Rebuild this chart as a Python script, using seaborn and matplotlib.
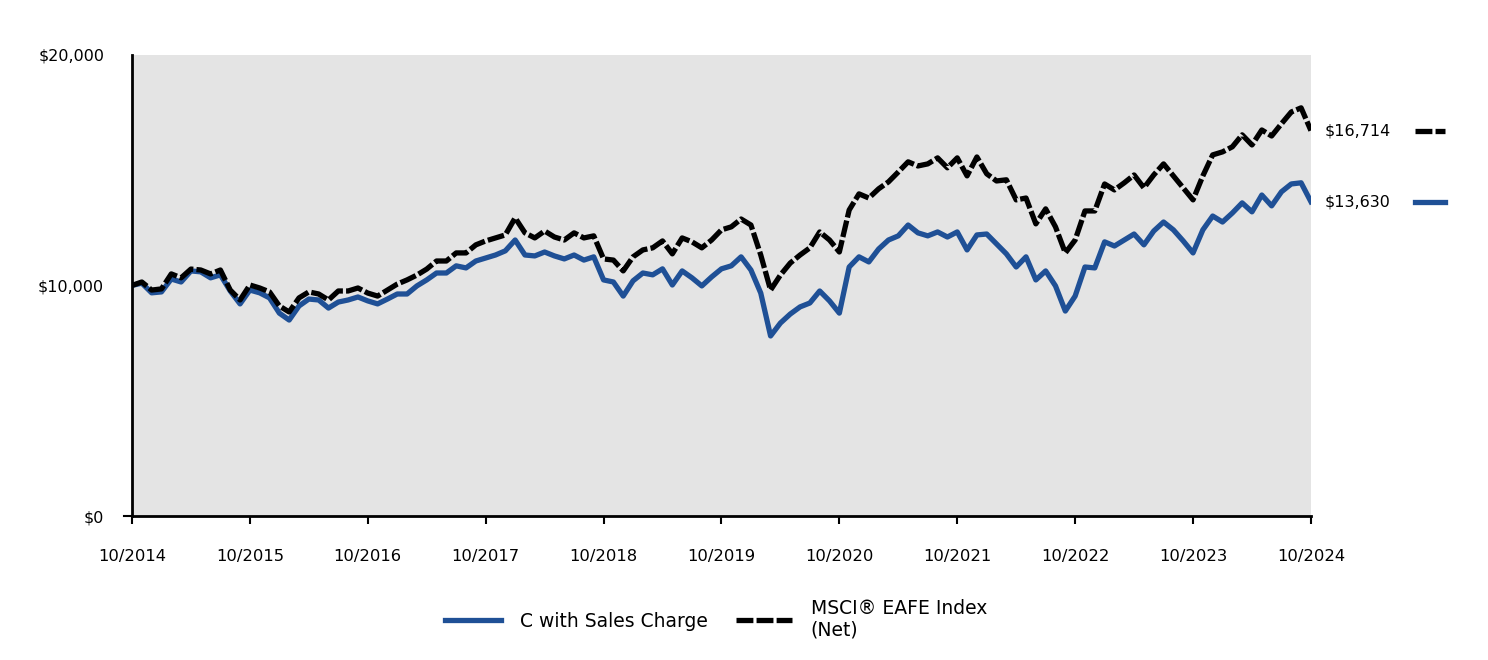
import numpy as np
import pandas as pd
import matplotlib
matplotlib.use("Agg")
import matplotlib.pyplot as plt
import matplotlib.transforms as mtransforms
import seaborn as sns

# monthly growth of $10,000, 10/2014 .. 10/2024
fund = [10000, 10100, 9680, 9720, 10280, 10150, 10630, 10590, 10330, 10460,
        9760, 9200, 9800, 9680, 9460, 8800, 8500, 9110, 9410, 9370,
        9020, 9280, 9370, 9500, 9330, 9200, 9410, 9630, 9630, 9980,
        10240, 10540, 10540, 10850, 10760, 11060, 11190, 11320, 11500, 11970,
        11320, 11280, 11450, 11280, 11150, 11320, 11100, 11240, 10240, 10150,
        9540, 10200, 10540, 10460, 10720, 10020, 10630, 10330, 9980, 10370,
        10720, 10850, 11240, 10670, 9670, 7810, 8370, 8760, 9070, 9240,
        9760, 9330, 8800, 10800, 11240, 11020, 11580, 11970, 12150, 12620,
        12280, 12150, 12320, 12100, 12320, 11540, 12190, 12230, 11800, 11370,
        10800, 11240, 10240, 10630, 9980, 8890, 9540, 10800, 10760, 11890,
        11710, 11970, 12230, 11760, 12360, 12750, 12410, 11930, 11410, 12410,
        13010, 12750, 13140, 13580, 13190, 13920, 13450, 14060, 14400, 14450,
        13630]
index = [10000, 10150, 9800, 9850, 10500, 10330, 10710, 10670, 10500, 10670,
         9800, 9370, 10020, 9890, 9720, 9110, 8850, 9460, 9720, 9630,
         9370, 9760, 9760, 9890, 9670, 9540, 9800, 10060, 10240, 10450,
         10710, 11060, 11060, 11410, 11410, 11760, 11930, 12060, 12190, 12930,
         12280, 12060, 12360, 12100, 11970, 12280, 12060, 12150, 11150, 11100,
         10630, 11240, 11540, 11630, 11930, 11370, 12060, 11890, 11630, 11970,
         12410, 12540, 12880, 12620, 11320, 9800, 10450, 10970, 11320, 11630,
         12320, 11970, 11450, 13270, 13970, 13790, 14190, 14490, 14920, 15360,
         15180, 15270, 15530, 15100, 15530, 14750, 15570, 14840, 14530, 14580,
         13710, 13790, 12670, 13320, 12540, 11410, 11970, 13230, 13230, 14400,
         14140, 14450, 14790, 14230, 14790, 15270, 14750, 14230, 13710, 14750,
         15660, 15790, 16010, 16530, 16090, 16740, 16480, 17010, 17520, 17700,
         16714]
tick_labels = ["10/2014", "10/2015", "10/2016", "10/2017", "10/2018", "10/2019",
               "10/2020", "10/2021", "10/2022", "10/2023", "10/2024"]
fund_name = "C with Sales Charge"
index_name = "MSCI® EAFE Index\n(Net)"

blue = "#1f5096"
dash = (0, (3.2, 0.6))
df = pd.DataFrame({"month": range(len(fund)), "fund": fund, "index": index})

plt.rcParams["font.family"] = ["DejaVu Sans"]
fig = plt.figure(figsize=(14.88, 6.6), dpi=100)
ax = fig.add_axes([0.0887, 0.218, 0.7923, 0.699])
ax.set_facecolor("#e4e4e4")

sns.lineplot(data=df, x="month", y="fund", ax=ax, color=blue, lw=3.8,
             label=fund_name)
sns.lineplot(data=df, x="month", y="index", ax=ax, color="black", lw=3.8,
             linestyle=dash, label=index_name)

ax.set_xlim(0, len(fund) - 1)
ax.set_ylim(0, 20000)
ax.set_xticks(range(0, len(fund), 12))
ax.set_xticklabels(tick_labels)
ax.set_yticks([0, 10000, 20000])
ax.set_yticklabels(["$0", "$10,000", "$20,000"])
ax.set_xlabel("")
ax.set_ylabel("")
ax.tick_params(axis="x", length=6, width=1.5, pad=18, labelsize=11.8)
ax.tick_params(axis="y", length=0, pad=20, labelsize=11.5)
for s in ["top", "right"]:
    ax.spines[s].set_visible(False)
for s in ["left", "bottom"]:
    ax.spines[s].set_linewidth(2)
    ax.spines[s].set_color("black")
# small tick left of the origin
ax.plot([-0.007, 0], [0, 0], transform=ax.transAxes, clip_on=False,
        color="black", lw=1.5)

# end-value labels to the right
trans = mtransforms.blended_transform_factory(ax.transAxes, ax.transData)
ax.text(1.012, index[-1], f"${index[-1]:,}", transform=trans, va="center",
        ha="left", fontsize=11.5)
ax.text(1.012, fund[-1], f"${fund[-1]:,}", transform=trans, va="center",
        ha="left", fontsize=11.5)
ax.plot([1.088, 1.114], [index[-1]] * 2, transform=trans, clip_on=False,
        color="black", lw=3.8, linestyle=dash)
ax.plot([1.088, 1.114], [fund[-1]] * 2, transform=trans, clip_on=False,
        color=blue, lw=3.8)

ax.get_legend().remove()
h, l = ax.get_legend_handles_labels()
fig.legend(h, l, loc="upper center", bbox_to_anchor=(0.481, 0.118), ncol=2,
           frameon=False, fontsize=13.5, handlelength=3.0, columnspacing=1.5,
           handletextpad=1.0, labelspacing=0.6)

fig.savefig("out.png", dpi=100)
